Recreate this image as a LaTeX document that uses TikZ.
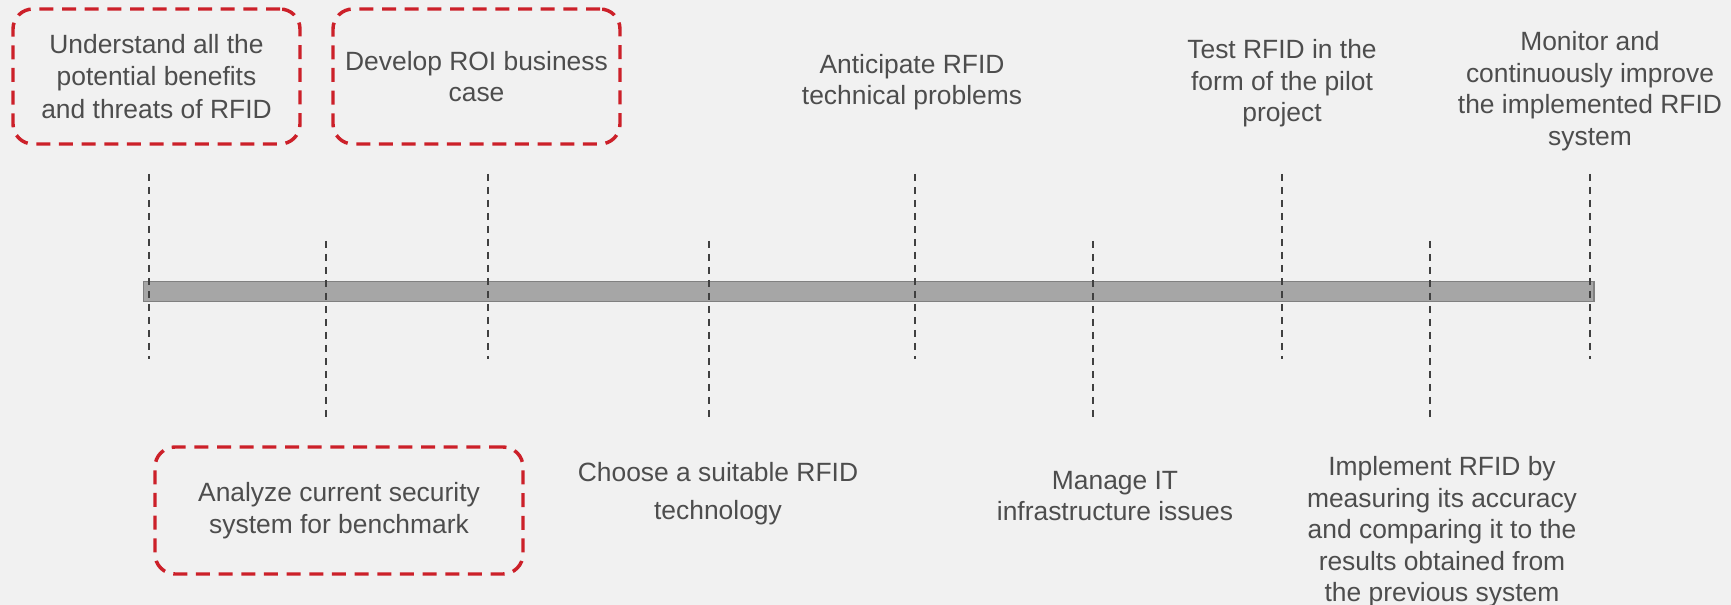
\documentclass[tikz,border=0pt]{standalone}
\usepackage{fontspec}
\setmainfont{Liberation Sans}
\definecolor{pagebg}{RGB}{241,241,241}
\definecolor{labeltext}{RGB}{77,77,77}
\definecolor{markred}{RGB}{204,32,41}
\definecolor{barfill}{RGB}{166,166,166}
\definecolor{barline}{RGB}{128,128,128}
\definecolor{tickline}{RGB}{64,64,64}

\tikzset{every picture/.style={line width=0.75pt}}
\tikzset{
  steptext/.style={text=labeltext, align=center, inner sep=0.75pt,
    font=\fontsize{19.8}{23.6}\selectfont},
  redbox/.style={steptext, draw=markred, line width=2.6pt,
    dash pattern=on 10.5pt off 6.5pt, rounded corners=15pt},
  tick/.style={draw=tickline, line width=1.1pt, dash pattern=on 5.25pt off 4.5pt},
}

\begin{document}
\begin{tikzpicture}[x=0.75pt,y=0.75pt,yscale=-1,xscale=1]
		%set diagram left start at 0, and has height of 605
		\fill [pagebg] (0,0) rectangle (1731,605);
		\useasboundingbox (0,0) rectangle (1731,605);

		%Shape: Rectangle [id:timeline bar]
		\draw [fill=barfill, draw=barline, line width=1.2pt] (143.5,281.5) rectangle (1594,301.5);

		%Straight Lines: ticks above the bar
		\foreach \x in {149,488,915,1282,1590}
			\draw [tick] (\x,174) -- (\x,359);
		%Straight Lines: ticks below the bar
		\foreach \x in {326,709,1093,1430}
			\draw [tick] (\x,241) -- (\x,423);

		% Text Node
		\node (understand) at (156.5,76.5) [redbox, font=\fontsize{19.8}{24.4}\selectfont, minimum width=215.25pt, minimum height=101.25pt]
			{Understand all the\\potential benefits\\and threats of RFID};
		% Text Node
		\node (roicase) at (476.5,76.5) [redbox, minimum width=215.25pt, minimum height=101.25pt]
			{Develop ROI business\\case};
		% Text Node
		\node (anticipate) at (912,82) [steptext] {Anticipate RFID\\technical problems};
		% Text Node
		\node (pilot) at (1282,83.5) [steptext] {Test RFID in the\\form of the pilot\\project};
		% Text Node
		\node (monitor) at (1590,91) [steptext] {Monitor and\\continuously improve\\the implemented RFID\\system};

		% Text Node
		\node (analyze) at (339,510.5) [redbox, minimum width=276pt, minimum height=95.25pt]
			{Analyze current security\\system for benchmark};
		% Text Node
		\node (choose) at (718,494) [steptext, font=\fontsize{19.8}{28.5}\selectfont] {Choose a suitable RFID\\technology};
		% Text Node
		\node (manage) at (1115,496) [steptext] {Manage IT\\infrastructure issues};
		% Text Node
		\node (implement) at (1442,532) [steptext] {Implement RFID by\\measuring its accuracy\\and comparing it to the\\results obtained from\\the previous system};

	\end{tikzpicture}
\end{document}
